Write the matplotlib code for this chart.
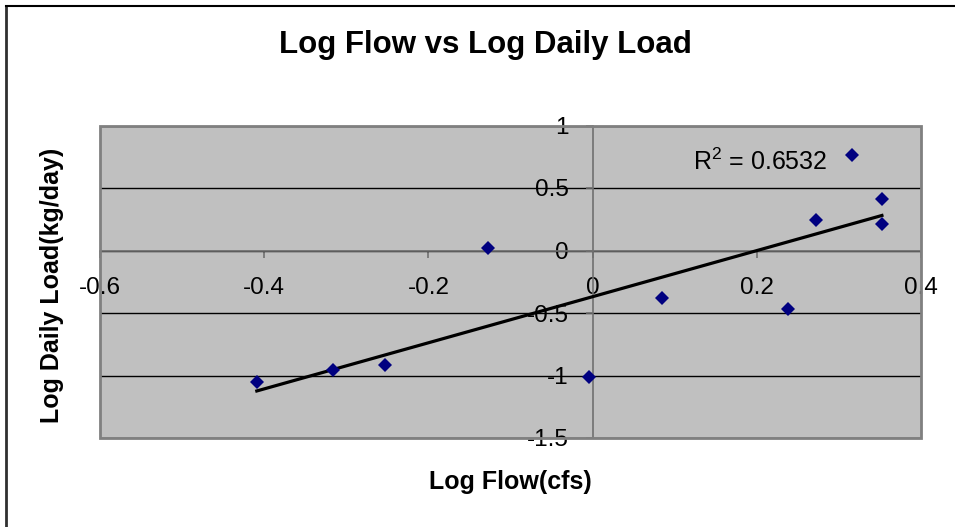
import numpy as np
import matplotlib
matplotlib.use("Agg")
import matplotlib.pyplot as plt
from matplotlib.lines import Line2D
from matplotlib.patches import Rectangle

plt.rcParams['font.family'] = ['Liberation Sans', 'DejaVu Sans']
plt.rcParams['mathtext.default'] = 'regular'

# log10 of flow (cfs) and log10 of daily load (kg/day)
log_flow = [-0.409, -0.316, -0.253, -0.127, -0.004, 0.0845, 0.2386, 0.272, 0.3155, 0.3524, 0.3524]
log_load = [-1.053, -0.954, -0.914, 0.018, -1.013, -0.380, -0.471, 0.242, 0.768, 0.416, 0.210]
r2_text = "R$^2$ = 0.6532"

x_ticks = [-0.6, -0.4, -0.2, 0, 0.2, 0.4]
y_ticks = [-1.5, -1, -0.5, 0, 0.5, 1]
x_tick_labels = ["-0.6", "-0.4", "-0.2", "0", "0.2", "0.4"]
y_tick_labels = ["-1.5", "-1", "-0.5", "0", "0.5", "1"]

W, H = 955, 527
fig = plt.figure(figsize=(W / 100, H / 100), dpi=100)
ax = fig.add_axes([100 / W, 1 - 438 / H, 821 / W, 312.5 / H])
ax.set_facecolor('#C0C0C0')

# linear trendline over the range of the data
x = np.array(log_flow)
y = np.array(log_load)
slope, intercept = np.polyfit(x, y, 1)
xs = np.array([x.min(), x.max()])
ax.plot(xs, slope * xs + intercept, color='black', lw=2.3, zorder=4)

ax.plot(x, y, linestyle='none', marker='D', markersize=7, color='#000080',
        markeredgewidth=0, zorder=5)

ax.text(0.122, 0.645, r2_text, fontsize=18, ha='left', va='baseline', zorder=6)

ax.set_xlim(-0.6, 0.4)
ax.set_ylim(-1.5, 1)
ax.set_xticks(x_ticks)
ax.set_xticklabels(x_tick_labels)
ax.set_yticks(y_ticks)
ax.set_yticklabels(y_tick_labels)

# axes cross at zero, like the spreadsheet chart
ax.spines['left'].set_position(('data', 0))
ax.spines['bottom'].set_position(('data', 0))
for s in ['left', 'bottom']:
    ax.spines[s].set_color('#707070')
    ax.spines[s].set_linewidth(1.2)
    ax.spines[s].set_zorder(3)
ax.spines['top'].set_visible(False)
ax.spines['right'].set_visible(False)

ax.tick_params(axis='both', direction='out', length=5, width=1.2, color='#707070',
               labelsize=17.5)
ax.tick_params(axis='x', pad=14)
ax.tick_params(axis='y', pad=12)

ax.yaxis.grid(True, color='black', lw=1)
ax.set_axisbelow(True)

# plot area border
ax.add_patch(Rectangle((0, 0), 1, 1, transform=ax.transAxes, fill=False,
                       edgecolor='#808080', lw=2, zorder=7, clip_on=False))

fig.text(485.5 / W, 1 - 53.5 / H, "Log Flow vs Log Daily Load", fontsize=22.5,
         fontweight='bold', ha='center', va='baseline')
fig.text(510 / W, 1 - 489.5 / H, "Log Flow(cfs)", fontsize=18,
         fontweight='bold', ha='center', va='baseline')
fig.text(52 / W, 1 - 285 / H, "Log Daily Load(kg/day)", fontsize=18,
         fontweight='bold', ha='center', va='center', rotation=90)

# chart border
fig.add_artist(Line2D([6 / W, 6 / W], [0, 1 - 6 / H], color='#303030', lw=2,
                      transform=fig.transFigure))
fig.add_artist(Line2D([6 / W, 1], [1 - 6 / H, 1 - 6 / H], color='black', lw=1.5,
                      transform=fig.transFigure))

fig.savefig("out.png", dpi=100)
